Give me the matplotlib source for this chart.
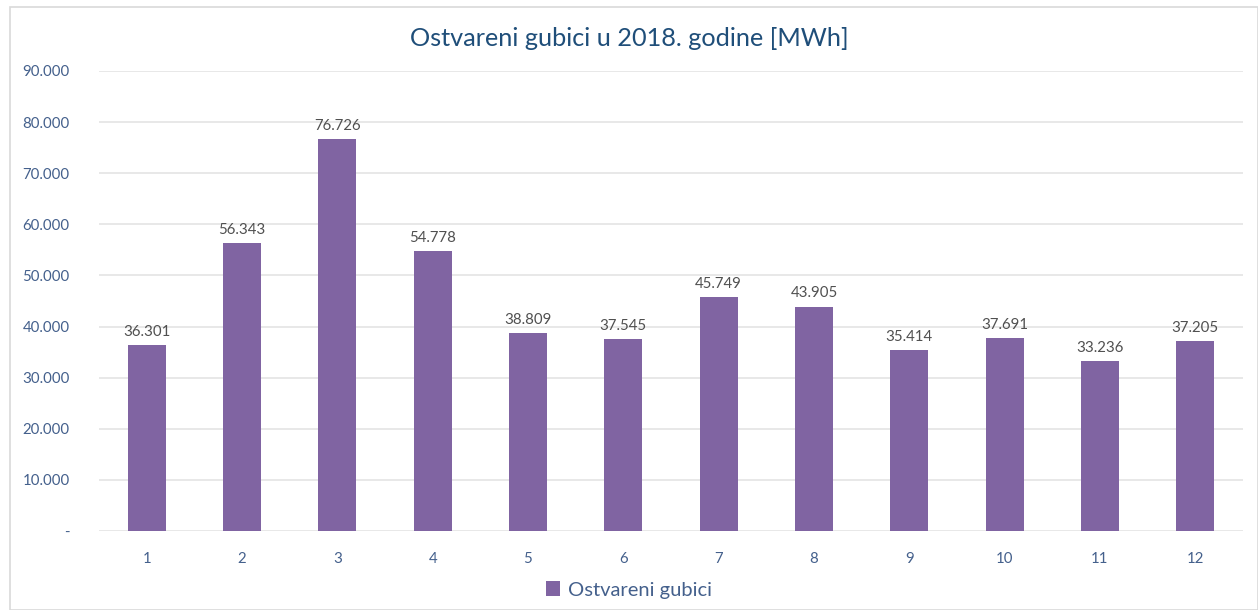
import matplotlib.pyplot as plt
from matplotlib.patches import Rectangle
from matplotlib.ticker import FuncFormatter

plt.rcParams['font.family'] = ['Lato', 'DejaVu Sans']

months = ['1', '2', '3', '4', '5', '6', '7', '8', '9', '10', '11', '12']
losses = [36301, 56343, 76726, 54778, 38809, 37545, 45749, 43905, 35414, 37691, 33236, 37205]
series_name = 'Ostvareni gubici'
title = 'Ostvareni gubici u 2018. godine [MWh]'


def fmt_thousands(v):
    if v == 0:
        return '-'
    return f'{int(round(v)):,}'.replace(',', '.')


fig = plt.figure(figsize=(12.58, 6.1), dpi=100)
fig.patches.append(Rectangle((10 / 1258, 0), 1 - 10 / 1258, 1 - 7 / 610, transform=fig.transFigure,
                             fill=False, edgecolor='#d9d9d9', linewidth=1.2))
ax = fig.add_axes([99 / 1258, 1 - 531 / 610, (1243 - 99) / 1258, (531 - 71) / 610])

x = range(len(months))
bars = ax.bar(x, losses, width=0.4, color='#8064a2', label=series_name, zorder=3)

for xi, v in zip(x, losses):
    ax.text(xi, v + 1200, fmt_thousands(v), ha='center', va='bottom', fontsize=10.8, color='#505050')

ax.set_xlim(-0.5, len(months) - 0.5)
ax.set_ylim(0, 90000)
ax.set_yticks(range(0, 90001, 10000))
ax.yaxis.set_major_formatter(FuncFormatter(lambda v, p: fmt_thousands(v)))
ax.set_xticks(list(x))
ax.set_xticklabels(months)
ax.grid(axis='y', color='#e4e4e4', linewidth=1.2, zorder=0)
for s in ax.spines.values():
    s.set_visible(False)
ax.tick_params(length=0, labelsize=10.8, labelcolor='#44608c')
ax.tick_params(axis='y', pad=21)
ax.tick_params(axis='x', pad=15)
for lbl in ax.get_yticklabels():
    lbl.set_horizontalalignment('right')

fig.text(0.5, 1 - 38 / 610, title, ha='center', va='center', fontsize=18.2, color='#1f4e79')
fig.legend(handles=[bars], loc='center', bbox_to_anchor=(0.5, 1 - 590 / 610), frameon=False,
           fontsize=14.5, labelcolor='#44608c', handlelength=0.7, handleheight=0.7, handletextpad=0.4)

fig.savefig('out.png', dpi=100)
